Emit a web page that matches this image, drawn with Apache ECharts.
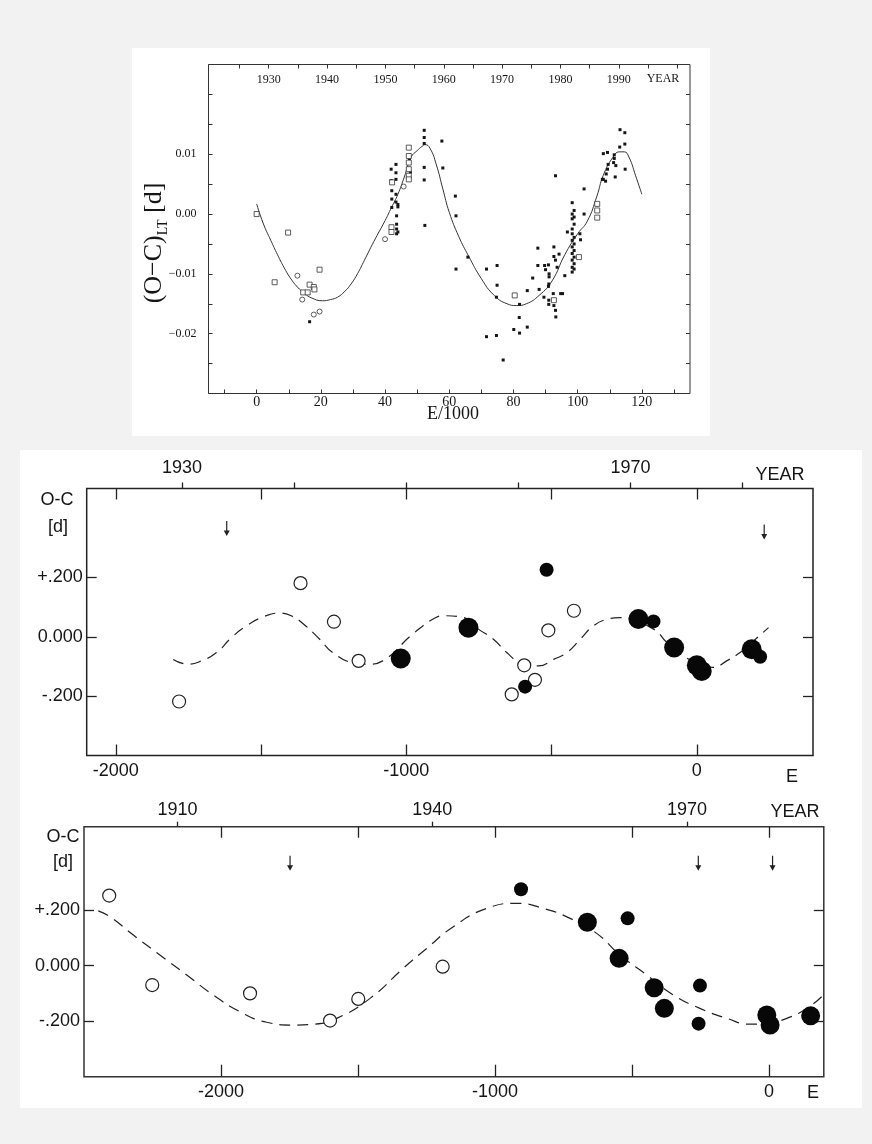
<!DOCTYPE html>
<html><head><meta charset="utf-8">
<script src="https://cdn.jsdelivr.net/npm/echarts@6/dist/echarts.min.js"></script>
<style>
html,body{margin:0;padding:0;background:#f2f2f2;}
#wrap{position:relative;width:872px;height:1144px;overflow:hidden;}
.card{position:absolute;background:#fff;}
#chart{position:absolute;left:0;top:0;width:872px;height:1144px;}
</style></head>
<body><div id="wrap">
<div class="card" style="left:131.5px;top:47.5px;width:578px;height:388.5px"></div>
<div class="card" style="left:20px;top:449.5px;width:842px;height:658.5px"></div>
<div id="chart"></div></div>
<script>
// ---------- TOP PANEL (E/1000 vs (O-C)LT) ----------
const topXTicks = [-10,0,10,20,30,40,50,60,70,80,90,100,110,120,130];
const topXLabels = [0,20,40,60,80,100,120];
const topYTicks = [-0.03,-0.025,-0.02,-0.015,-0.01,-0.005,0,0.005,0.01,0.015,0.02,0.025];
const topYLabels = [-0.02,-0.01,0,0.01];
const topYearTicks = [1925,1930,1935,1940,1945,1950,1955,1960,1965,1970,1975,1980,1985,1990,1995,2000];
const topYearLabels = [1930,1940,1950,1960,1970,1980,1990];
const topCurve = [[0,0.0017],[2,-0.0015],[4.4,-0.0044],[6.5,-0.0068],[8.5,-0.0089],[10.5,-0.0107],[12.7,-0.0122],[15,-0.0133],[17,-0.014],[20.5,-0.0145],[23,-0.0143],[25.2,-0.0139],[27.5,-0.0129],[29.4,-0.0117],[31.5,-0.0099],[33.5,-0.0078],[36.5,-0.0046],[40,-0.0011],[42,0.0011],[44,0.0033],[46,0.0062],[48.1,0.0095],[50,0.0106],[51.5,0.0113],[52.5,0.0116],[54,0.011],[56,0.0082],[58,0.0042],[60,0.0003],[63,-0.0038],[66,-0.007],[70,-0.0108],[74,-0.0136],[78,-0.015],[81,-0.0153],[84,-0.015],[88,-0.0136],[92,-0.0112],[96,-0.0068],[100,-0.0033],[103,-0.0012],[106,0.003],[108,0.0065],[111,0.0095],[113,0.0104],[114.5,0.0104],[116,0.0095],[118,0.0065],[120,0.0033]];
const topFilled = [[52.2,0.0140],[52.2,0.0128],[52.2,0.0118],[52.2,0.0078],[52.2,0.0057],[52.4,-0.0019],[57.7,0.0122],[58.0,0.0077],[61.9,0.0030],[62.1,-0.0003],[62.1,-0.0092],[65.8,-0.0072],[71.6,-0.0092],[74.9,-0.0086],[74.9,-0.0119],[74.7,-0.0139],[71.6,-0.0205],[74.7,-0.0203],[76.8,-0.0244],[80.1,-0.0193],[81.9,-0.0199],[81.9,-0.0151],[81.8,-0.0173],[84.3,-0.0189],[84.3,-0.0128],[86.0,-0.0107],[87.6,-0.0057],[87.6,-0.0086],[88.0,-0.0126],[89.5,-0.0139],[89.7,-0.0086],[90.0,-0.0093],[90.9,-0.0085],[91.1,-0.0100],[91.1,-0.0105],[91.0,-0.0117],[90.9,-0.0121],[91.0,-0.0144],[91.0,-0.0151],[92.4,-0.0133],[92.4,-0.0144],[92.6,-0.0153],[93.1,-0.0161],[93.2,-0.0172],[93.1,0.0064],[92.6,-0.0055],[92.6,-0.0071],[93.1,-0.0077],[93.6,-0.0089],[94.2,-0.0067],[94.7,-0.0133],[95.3,-0.0133],[96.0,-0.0103],[96.8,-0.0030],[98.3,0.0019],[98.3,0.0000],[98.3,-0.0008],[98.3,-0.0025],[98.3,-0.0033],[98.3,-0.0044],[98.3,-0.0055],[98.3,-0.0066],[98.3,-0.0077],[98.3,-0.0089],[98.3,-0.0097],[98.9,0.0006],[98.9,-0.0005],[98.9,-0.0017],[98.9,-0.0039],[98.9,-0.0050],[98.9,-0.0061],[98.9,-0.0072],[98.9,-0.0083],[98.9,-0.0092],[100.7,-0.0033],[100.9,-0.0043],[102.0,0.0042],[102.0,0.0000],[107.7,0.0058],[108.0,0.0058],[108.0,0.0101],[109.3,0.0103],[108.7,0.0055],[108.9,0.0067],[109.3,0.0075],[109.5,0.0083],[111.2,0.0086],[111.4,0.0093],[111.4,0.0099],[111.9,0.0081],[111.7,0.0062],[113.1,0.0112],[113.2,0.0141],[114.7,0.0136],[114.7,0.0117],[114.8,0.0075],[41.9,0.0075],[41.9,0.0056],[42.1,0.0039],[42.1,0.0025],[42.1,0.0011],[43.4,0.0083],[43.4,0.0069],[43.4,0.0058],[43.4,0.0033],[43.4,0.0020],[43.6,-0.0003],[43.6,-0.0017],[43.6,-0.0025],[43.6,-0.0033],[44.0,0.0012],[44.0,0.0016],[44.0,-0.0030],[47.6,0.0090],[47.9,0.0070],[16.5,-0.0180]];
const topOpenSq = [[0,0.0000],[9.8,-0.0031],[5.6,-0.0114],[14.5,-0.0131],[15.9,-0.0131],[16.5,-0.0118],[17.8,-0.0122],[18.0,-0.0126],[19.6,-0.0093],[80.4,-0.0136],[92.6,-0.0144],[100.4,-0.0072],[106.1,0.0017],[106.1,0.0006],[106.1,-0.0006],[42.0,-0.0022],[42.0,-0.0030],[42.2,0.0053],[47.4,0.0111],[47.4,0.0097],[47.4,0.0086],[47.4,0.0075],[47.4,0.0064],[47.4,0.0058]];
const topOpenCirc = [[12.7,-0.0103],[14.2,-0.0143],[17.8,-0.0168],[19.6,-0.0163],[45.8,0.0046],[40.0,-0.0042]];

// ---------- MIDDLE PANEL ----------
const midETicks = [-2000,-1500,-1000,-500,0];
const midELabels = [-2000,-1000,0];
const midYearTicks = [1930,1940,1950,1960,1970,1980];
const midYearLabels = [1930,1970];
const ocTicks = [-0.2,0,0.2];
const midCurve = [[-1802,-0.076],[-1751,-0.092],[-1705,-0.081],[-1653,-0.053],[-1602,-0.003],[-1550,0.037],[-1493,0.067],[-1436,0.080],[-1396,0.071],[-1350,0.040],[-1298,-0.008],[-1253,-0.053],[-1184,-0.087],[-1127,-0.092],[-1081,-0.081],[-978,0.009],[-898,0.065],[-872,0.071],[-804,0.065],[-752,0.026],[-700,-0.008],[-654,-0.053],[-608,-0.087],[-545,-0.098],[-493,-0.076],[-447,-0.053],[-401,-0.008],[-356,0.037],[-310,0.059],[-264,0.065],[-149,0.026],[-103,-0.019],[-46,-0.064],[11,-0.092],[57,-0.103],[103,-0.081],[149,-0.053],[195,-0.014],[247,0.031]];
const midOpen = [[-1782,-0.218],[-1364,0.181],[-1249,0.051],[-1164,-0.081],[-423,0.088],[-511,0.022],[-594,-0.096],[-557,-0.145],[-637,-0.194]];
const midBig = [[-1019,-0.073],[-786,0.031],[-201,0.060],[-78,-0.036],[0,-0.096],[17,-0.115],[189,-0.042]];
const midSmall = [[-517,0.226],[-591,-0.168],[-149,0.052],[218,-0.067]];
const midArrows = [[-1618,0.365],[232,0.353]];

// ---------- BOTTOM PANEL ----------
const botETicks = [-2000,-1500,-1000,-500,0];
const botELabels = [-2000,-1000,0];
const botYearTicks = [1910,1940,1970];
const botYearLabels = [1910,1940,1970];
const botCurve = [[-2448,0.197],[-2405,0.176],[-2320,0.110],[-2223,0.038],[-2125,-0.034],[-2028,-0.106],[-1931,-0.166],[-1833,-0.204],[-1736,-0.214],[-1663,-0.211],[-1578,-0.190],[-1456,-0.118],[-1335,-0.010],[-1249,0.062],[-1152,0.140],[-1030,0.206],[-921,0.224],[-824,0.206],[-726,0.170],[-629,0.116],[-544,0.038],[-446,-0.034],[-349,-0.106],[-252,-0.154],[-154,-0.190],[-69,-0.211],[-8,-0.208],[65,-0.190],[138,-0.154],[192,-0.112]];
const botOpen = [[-2408,0.252],[-2251,-0.070],[-1894,-0.100],[-1602,-0.198],[-1499,-0.120],[-1191,-0.004]];
const botBig = [[-663,0.156],[-547,0.026],[-419,-0.080],[-382,-0.154],[-8,-0.178],[4,-0.214],[152,-0.181]];
const botSmall = [[-905,0.275],[-516,0.170],[-252,-0.072],[-257,-0.209]];
const botArrows = [[-1748,0.368],[-258,0.368],[13,0.368]];

const SERIF = 'Liberation Serif';
const SANS = 'Liberation Sans';
const INK = '#151515';
const ARROW = 'path://M4.4,0 L5.6,0 L5.6,10 L8,10 L5,16 L2,10 L4.4,10 Z';

function ocFmt(v){
  if (Math.abs(v) < 1e-9) return '0.000';
  const s = Math.abs(v).toFixed(3).replace(/^0/, '');
  return (v > 0 ? '+' : '-') + s;
}
function topYFmt(v){
  if (Math.abs(v) < 1e-9) return '0.00';
  return (v < 0 ? '\u2212' : '') + Math.abs(v).toFixed(2);
}
const eFmt = v => String(Math.round(v));
const noSplit = {show:false};
const noLine = {show:false, onZero:false};

const chart = echarts.init(document.getElementById('chart'), null, {renderer:'canvas'});
const option = {
  backgroundColor: 'transparent',
  animation: false,
  grid: [
    {left:208.5, top:64.5, width:481.5, height:329, show:true, borderColor:'#333', borderWidth:1, backgroundColor:'transparent'},
    {left:86.7, top:488.5, width:726.3, height:267, show:true, borderColor:'#222', borderWidth:1.5, backgroundColor:'transparent'},
    {left:84, top:826.7, width:739.8, height:250, show:true, borderColor:'#333', borderWidth:1.5, backgroundColor:'transparent'}
  ],
  xAxis: [
    {gridIndex:0, type:'value', min:-15, max:135, position:'bottom', axisLine:noLine, splitLine:noSplit,
      axisTick:{inside:true, length:4, customValues:topXTicks, lineStyle:{color:'#333'}},
      axisLabel:{customValues:topXLabels, margin:2, fontFamily:SERIF, fontSize:14, color:INK, formatter:eFmt}},
    {gridIndex:0, type:'value', min:1919.68, max:2002.2, position:'top', axisLine:noLine, splitLine:noSplit,
      axisTick:{inside:true, length:4, customValues:topYearTicks, lineStyle:{color:'#333'}},
      axisLabel:{inside:true, customValues:topYearLabels, margin:9, fontFamily:SERIF, fontSize:12, color:INK, formatter:eFmt}},
    {gridIndex:1, type:'value', min:-2100, max:400, position:'bottom', axisLine:noLine, splitLine:noSplit,
      axisTick:{inside:true, length:11, customValues:midETicks, lineStyle:{color:'#222', width:1.3}},
      axisLabel:{customValues:midELabels, margin:7, fontFamily:SANS, fontSize:18, color:INK, formatter:eFmt}},
    {gridIndex:1, type:'value', min:1921.5, max:1986.27, position:'top', axisLine:noLine, splitLine:noSplit,
      axisTick:{inside:false, length:6, customValues:midYearTicks, lineStyle:{color:'#222', width:1.3}},
      axisLabel:{customValues:midYearLabels, margin:11, fontFamily:SANS, fontSize:18, color:INK, formatter:eFmt}},
    {gridIndex:1, type:'value', min:-2100, max:400, position:'top', axisLine:noLine, splitLine:noSplit,
      axisTick:{inside:true, length:11, customValues:midETicks, lineStyle:{color:'#222', width:1.3}},
      axisLabel:{show:false}},
    {gridIndex:2, type:'value', min:-2500, max:200, position:'bottom', axisLine:noLine, splitLine:noSplit,
      axisTick:{inside:true, length:12, customValues:botETicks, lineStyle:{color:'#222', width:1.3}},
      axisLabel:{customValues:botELabels, margin:6, fontFamily:SANS, fontSize:18, color:INK, formatter:eFmt}},
    {gridIndex:2, type:'value', min:1899.0, max:1986.1, position:'top', axisLine:noLine, splitLine:noSplit,
      axisTick:{inside:false, length:5, customValues:botYearTicks, lineStyle:{color:'#222', width:1.3}},
      axisLabel:{customValues:botYearLabels, margin:8, fontFamily:SANS, fontSize:18, color:INK, formatter:eFmt}},
    {gridIndex:2, type:'value', min:-2500, max:200, position:'top', axisLine:noLine, splitLine:noSplit,
      axisTick:{inside:true, length:11, customValues:botETicks, lineStyle:{color:'#222', width:1.3}},
      axisLabel:{show:false}}
  ],
  yAxis: [
    {gridIndex:0, type:'value', min:-0.03, max:0.025, position:'left', axisLine:noLine, splitLine:noSplit,
      axisTick:{inside:true, length:4, customValues:topYTicks, lineStyle:{color:'#333'}},
      axisLabel:{customValues:topYLabels, margin:12, fontFamily:SERIF, fontSize:12, color:INK, formatter:topYFmt}},
    {gridIndex:0, type:'value', min:-0.03, max:0.025, position:'right', axisLine:noLine, splitLine:noSplit,
      axisTick:{inside:true, length:4, customValues:topYTicks, lineStyle:{color:'#333'}},
      axisLabel:{show:false}},
    {gridIndex:1, type:'value', min:-0.4, max:0.5, position:'left', axisLine:noLine, splitLine:noSplit,
      axisTick:{inside:true, length:10, customValues:ocTicks, lineStyle:{color:'#222', width:1.3}},
      axisLabel:{customValues:ocTicks, margin:4, fontFamily:SANS, fontSize:18, color:INK, formatter:ocFmt}},
    {gridIndex:1, type:'value', min:-0.4, max:0.5, position:'right', axisLine:noLine, splitLine:noSplit,
      axisTick:{inside:true, length:10, customValues:ocTicks, lineStyle:{color:'#222', width:1.3}},
      axisLabel:{show:false}},
    {gridIndex:2, type:'value', min:-0.4, max:0.5, position:'left', axisLine:noLine, splitLine:noSplit,
      axisTick:{inside:true, length:10, customValues:ocTicks, lineStyle:{color:'#222', width:1.3}},
      axisLabel:{customValues:ocTicks, margin:4, fontFamily:SANS, fontSize:18, color:INK, formatter:ocFmt}},
    {gridIndex:2, type:'value', min:-0.4, max:0.5, position:'right', axisLine:noLine, splitLine:noSplit,
      axisTick:{inside:true, length:10, customValues:ocTicks, lineStyle:{color:'#222', width:1.3}},
      axisLabel:{show:false}}
  ],
  series: [
    {type:'line', xAxisIndex:0, yAxisIndex:0, data:topCurve, smooth:true, showSymbol:false, lineStyle:{color:'#333', width:1}, z:2},
    {type:'scatter', xAxisIndex:0, yAxisIndex:0, data:topFilled, symbol:'rect', symbolSize:3, itemStyle:{color:INK, opacity:1}, z:3},
    {type:'scatter', xAxisIndex:0, yAxisIndex:0, data:topOpenSq, symbol:'rect', symbolSize:5, itemStyle:{color:'#fff', borderColor:'#333', borderWidth:0.8, opacity:1}, z:4},
    {type:'scatter', xAxisIndex:0, yAxisIndex:0, data:topOpenCirc, symbol:'circle', symbolSize:5, itemStyle:{color:'#fff', borderColor:'#333', borderWidth:0.8, opacity:1}, z:4},

    {type:'line', xAxisIndex:2, yAxisIndex:2, data:midCurve, smooth:true, showSymbol:false, lineStyle:{color:'#222', width:1.2, type:[11,7]}, z:2},
    {type:'scatter', xAxisIndex:2, yAxisIndex:2, data:midOpen, symbol:'circle', symbolSize:13, itemStyle:{color:'#fff', borderColor:'#222', borderWidth:1.2, opacity:1}, z:3},
    {type:'scatter', xAxisIndex:2, yAxisIndex:2, data:midBig, symbol:'circle', symbolSize:20, itemStyle:{color:'#080808', opacity:1}, z:4},
    {type:'scatter', xAxisIndex:2, yAxisIndex:2, data:midSmall, symbol:'circle', symbolSize:14, itemStyle:{color:'#080808', opacity:1}, z:4},
    {type:'scatter', xAxisIndex:2, yAxisIndex:2, data:midArrows, symbol:ARROW, symbolSize:[6,15], itemStyle:{color:'#222', opacity:1}, z:4},

    {type:'line', xAxisIndex:5, yAxisIndex:4, data:botCurve, smooth:true, showSymbol:false, lineStyle:{color:'#222', width:1.2, type:[11,7]}, z:2},
    {type:'scatter', xAxisIndex:5, yAxisIndex:4, data:botOpen, symbol:'circle', symbolSize:13, itemStyle:{color:'#fff', borderColor:'#222', borderWidth:1.2, opacity:1}, z:3},
    {type:'scatter', xAxisIndex:5, yAxisIndex:4, data:botBig, symbol:'circle', symbolSize:19, itemStyle:{color:'#080808', opacity:1}, z:4},
    {type:'scatter', xAxisIndex:5, yAxisIndex:4, data:botSmall, symbol:'circle', symbolSize:14, itemStyle:{color:'#080808', opacity:1}, z:4},
    {type:'scatter', xAxisIndex:5, yAxisIndex:4, data:botArrows, symbol:ARROW, symbolSize:[6,15], itemStyle:{color:'#222', opacity:1}, z:4}
  ],
  graphic: [
    {type:'text', x:154, y:243, rotation:Math.PI/2, style:{text:'{a|(O\u2212C)}{s|LT}{a| [d]}', align:'center', verticalAlign:'middle', fill:INK,
      rich:{a:{fontFamily:SERIF, fontSize:26, lineHeight:32, fill:INK, verticalAlign:'middle'}, s:{fontFamily:SERIF, fontSize:14, lineHeight:32, fill:INK, verticalAlign:'bottom'}}}},
    {type:'text', x:453, y:414, style:{text:'E/1000', font:'18px '+SERIF, fill:INK, align:'center', verticalAlign:'middle'}},
    {type:'text', x:663, y:79, style:{text:'YEAR', font:'12px '+SERIF, fill:INK, align:'center', verticalAlign:'middle'}},

    {type:'text', x:57, y:500, style:{text:'O-C', font:'18px '+SANS, fill:INK, align:'center', verticalAlign:'middle'}},
    {type:'text', x:58, y:527, style:{text:'[d]', font:'18px '+SANS, fill:INK, align:'center', verticalAlign:'middle'}},
    {type:'text', x:780, y:475, style:{text:'YEAR', font:'18px '+SANS, fill:INK, align:'center', verticalAlign:'middle'}},
    {type:'text', x:792, y:777, style:{text:'E', font:'18px '+SANS, fill:INK, align:'center', verticalAlign:'middle'}},

    {type:'text', x:63, y:837, style:{text:'O-C', font:'18px '+SANS, fill:INK, align:'center', verticalAlign:'middle'}},
    {type:'text', x:63, y:862, style:{text:'[d]', font:'18px '+SANS, fill:INK, align:'center', verticalAlign:'middle'}},
    {type:'text', x:795, y:812, style:{text:'YEAR', font:'18px '+SANS, fill:INK, align:'center', verticalAlign:'middle'}},
    {type:'text', x:813, y:1093, style:{text:'E', font:'18px '+SANS, fill:INK, align:'center', verticalAlign:'middle'}}
  ]
};
chart.setOption(option);
</script></body></html>
